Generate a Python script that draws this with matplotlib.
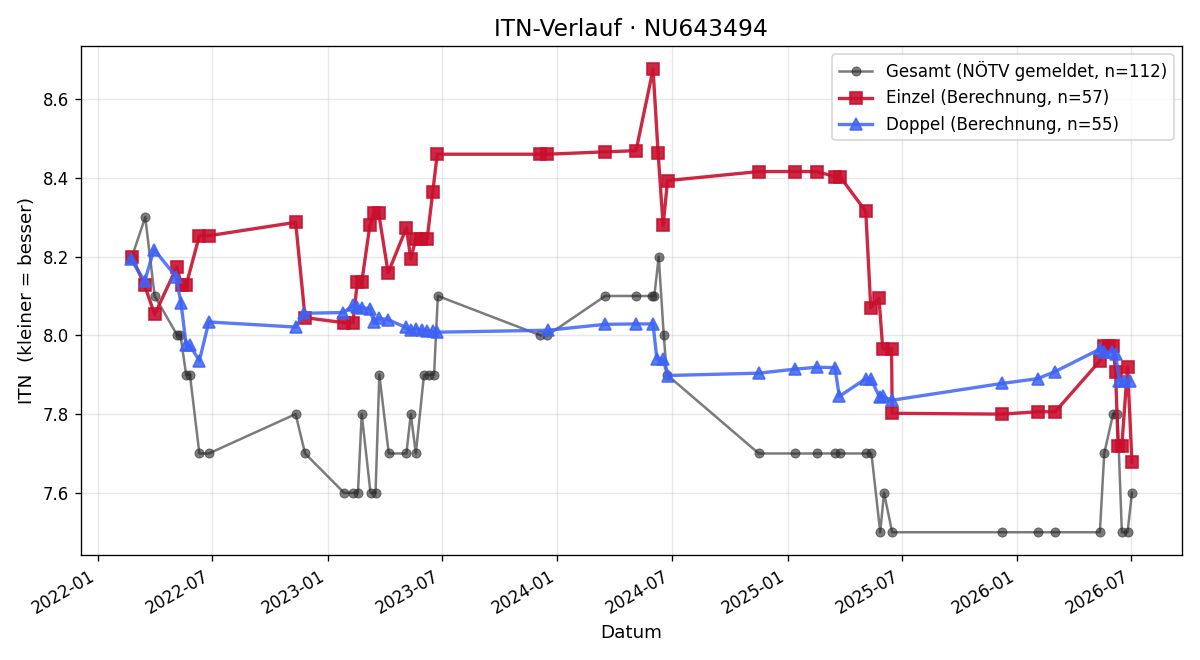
import pandas as pd
import matplotlib
matplotlib.use('Agg')
import matplotlib.pyplot as plt
import matplotlib.dates as mdates

# Gesamt (NÖTV gemeldet)
ges_dates = ['2022-02-24', '2022-03-17', '2022-04-01', '2022-05-07', '2022-05-12',
             '2022-05-21', '2022-05-27', '2022-06-11', '2022-06-26', '2022-11-11',
             '2022-11-26', '2023-01-27', '2023-02-10', '2023-02-18', '2023-02-24',
             '2023-03-10', '2023-03-18', '2023-03-24', '2023-04-08', '2023-05-06',
             '2023-05-13', '2023-05-21', '2023-06-03', '2023-06-11', '2023-06-19',
             '2023-06-25', '2023-12-05', '2023-12-16', '2024-03-17', '2024-05-05',
             '2024-05-31', '2024-06-03', '2024-06-10', '2024-06-18', '2024-06-23',
             '2024-11-16', '2025-01-12', '2025-02-16', '2025-03-17', '2025-03-25',
             '2025-05-05', '2025-05-14', '2025-05-28', '2025-06-03', '2025-06-16',
             '2025-12-08', '2026-02-02', '2026-03-02', '2026-05-12', '2026-05-19',
             '2026-06-02', '2026-06-09', '2026-06-16', '2026-06-25', '2026-07-02']
ges_itn = [8.2, 8.3, 8.1, 8.0, 8.0, 7.9, 7.9, 7.7, 7.7, 7.8,
           7.7, 7.6, 7.6, 7.6, 7.8, 7.6, 7.6, 7.9, 7.7, 7.7,
           7.8, 7.7, 7.9, 7.9, 7.9, 8.1, 8.0, 8.0, 8.1, 8.1,
           8.1, 8.1, 8.2, 8.0, 7.9, 7.7, 7.7, 7.7, 7.7, 7.7,
           7.7, 7.7, 7.5, 7.6, 7.5, 7.5, 7.5, 7.5, 7.5, 7.7,
           7.8, 7.8, 7.5, 7.5, 7.6]

# Einzel (Berechnung)
ein_dates = ['2022-02-24', '2022-03-16', '2022-04-01', '2022-05-06', '2022-05-14',
             '2022-05-21', '2022-06-11', '2022-06-26', '2022-11-11', '2022-11-26',
             '2023-01-27', '2023-02-10', '2023-02-17', '2023-02-24', '2023-03-09',
             '2023-03-15', '2023-03-23', '2023-04-07', '2023-05-06', '2023-05-13',
             '2023-05-21', '2023-05-30', '2023-06-08', '2023-06-17', '2023-06-24',
             '2023-12-05', '2023-12-16', '2024-03-17', '2024-05-05', '2024-06-01',
             '2024-06-09', '2024-06-17', '2024-06-24', '2024-11-16', '2025-01-12',
             '2025-02-16', '2025-03-17', '2025-03-25', '2025-05-05', '2025-05-13',
             '2025-05-26', '2025-06-01', '2025-06-15', '2025-06-16', '2025-12-08',
             '2026-02-02', '2026-03-02', '2026-05-12', '2026-05-19', '2026-05-26',
             '2026-06-02', '2026-06-06', '2026-06-10', '2026-06-16', '2026-06-25',
             '2026-07-02']
ein_itn = [8.199, 8.127, 8.053, 8.173, 8.127, 8.127, 8.253, 8.253, 8.287, 8.045,
           8.032, 8.032, 8.135, 8.135, 8.279, 8.31, 8.31, 8.159, 8.273, 8.194,
           8.245, 8.245, 8.245, 8.365, 8.46, 8.46, 8.46, 8.466, 8.469, 8.676,
           8.464, 8.279, 8.393, 8.416, 8.416, 8.416, 8.403, 8.403, 8.315, 8.07,
           8.094, 7.966, 7.966, 7.802, 7.8, 7.806, 7.806, 7.935, 7.973, 7.973,
           7.973, 7.907, 7.72, 7.72, 7.92, 7.678]

# Doppel (Berechnung)
dop_dates = ['2022-02-22', '2022-03-16', '2022-03-31', '2022-05-05', '2022-05-13',
             '2022-05-21', '2022-05-27', '2022-06-11', '2022-06-26', '2022-11-11',
             '2022-11-25', '2023-01-26', '2023-02-10', '2023-02-17', '2023-02-24',
             '2023-03-09', '2023-03-15', '2023-03-24', '2023-04-07', '2023-05-05',
             '2023-05-13', '2023-05-21', '2023-05-31', '2023-06-08', '2023-06-17',
             '2023-06-24', '2023-12-17', '2024-03-17', '2024-05-05', '2024-06-01',
             '2024-06-07', '2024-06-17', '2024-06-24', '2024-11-16', '2025-01-12',
             '2025-02-16', '2025-03-17', '2025-03-24', '2025-05-05', '2025-05-13',
             '2025-05-27', '2025-06-01', '2025-06-15', '2025-12-08', '2026-02-02',
             '2026-03-02', '2026-05-12', '2026-05-18', '2026-06-01', '2026-06-06',
             '2026-06-12', '2026-06-20', '2026-06-29']
dop_itn = [8.194, 8.137, 8.218, 8.149, 8.081, 7.975, 7.975, 7.935, 8.034, 8.021,
           8.056, 8.058, 8.076, 8.072, 8.07, 8.068, 8.034, 8.043, 8.04, 8.02,
           8.013, 8.017, 8.013, 8.012, 8.01, 8.008, 8.013, 8.028, 8.029, 8.029,
           7.94, 7.94, 7.898, 7.904, 7.914, 7.919, 7.918, 7.845, 7.89, 7.89,
           7.843, 7.845, 7.835, 7.878, 7.89, 7.908, 7.965, 7.958, 7.958, 7.952,
           7.885, 7.885, 7.885]

fig, ax = plt.subplots(figsize=(10, 5.5), dpi=120)

ax.plot(pd.to_datetime(ges_dates), ges_itn, color='#2a2a2a', alpha=0.62, marker='o',
        markersize=5.5, markeredgewidth=0.5, linewidth=1.5,
        label='Gesamt (NÖTV gemeldet, n=112)')
ax.plot(pd.to_datetime(ein_dates), ein_itn, color='#c8102e', alpha=0.9, marker='s',
        markersize=7, linewidth=2, label='Einzel (Berechnung, n=57)')
ax.plot(pd.to_datetime(dop_dates), dop_itn, color='#3d63f5', alpha=0.85, marker='^',
        markersize=7, linewidth=2, label='Doppel (Berechnung, n=55)')

ax.xaxis.set_major_locator(mdates.MonthLocator(bymonth=[1, 7]))
ax.xaxis.set_major_formatter(mdates.DateFormatter('%Y-%m'))
ax.grid(True, alpha=0.3)
ax.set_title('ITN-Verlauf · NU643494', fontsize=14)
ax.set_xlabel('Datum', fontsize=11)
ax.set_ylabel('ITN  (kleiner = besser)', fontsize=11)
ax.legend(loc='upper right')
fig.autofmt_xdate()
fig.tight_layout()
fig.savefig('out.png')
